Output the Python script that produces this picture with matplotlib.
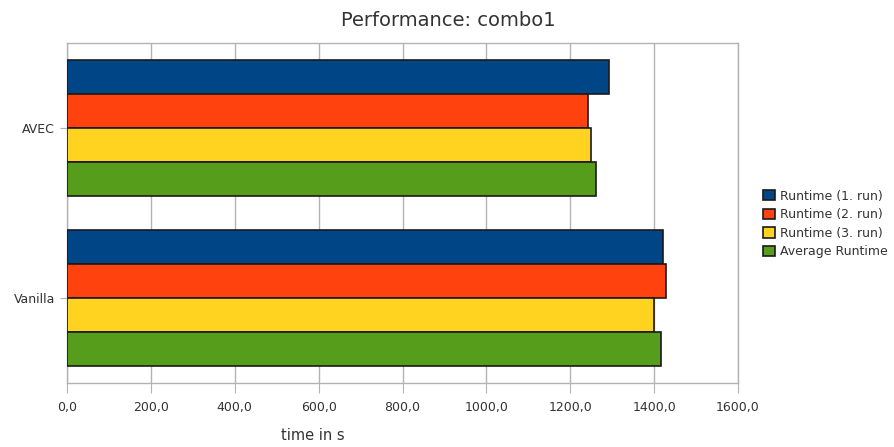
import numpy as np
import matplotlib
matplotlib.use("Agg")
import matplotlib.pyplot as plt

# data
categories = ["AVEC", "Vanilla"]
series_names = ["Runtime (1. run)", "Runtime (2. run)", "Runtime (3. run)", "Average Runtime"]
avec_times = [1293, 1243, 1250, 1262]
vanilla_times = [1421, 1429, 1400, 1417]
xticks = [0, 200, 400, 600, 800, 1000, 1200, 1400, 1600]
colors = ["#004586", "#ff420e", "#ffd320", "#579d1c"]

values = np.array([avec_times, vanilla_times])

fig = plt.figure(figsize=(8.94, 4.47), dpi=100)
ax = fig.add_axes([67 / 894, 1 - 383 / 447, (738 - 67) / 894, 340 / 447])

bar_h = 0.2
ypos = np.array([1, 0])  # AVEC on top
for i, name in enumerate(series_names):
    offs = (1.5 - i) * bar_h
    ax.barh(ypos + offs, values[:, i], height=bar_h, color=colors[i],
            edgecolor="#1a1a1a", linewidth=1.2, label=name, zorder=3)

ax.set_xlim(0, 1600)
ax.set_ylim(-0.5, 1.5)
ax.set_xticks(xticks)
ax.set_xticklabels([f"{t},0" for t in xticks], fontsize=9, color="#333333")
ax.set_yticks(ypos)
ax.set_yticklabels(categories, fontsize=9, color="#333333")
ax.tick_params(axis="x", length=7, color="#b3b3b3", pad=6)
ax.tick_params(axis="y", length=5, color="#b3b3b3")
ax.grid(axis="x", color="#b3b3b3", linewidth=1, zorder=0)
for s in ax.spines.values():
    s.set_color("#b3b3b3")
    s.set_linewidth(1)

# axis title sits left of centre in the original
fig.text(313 / 894, 1 - 435 / 447, "time in s", fontsize=10.5, color="#333333",
         ha="center", va="center")
fig.text(448 / 894, 1 - 20 / 447, "Performance: combo1", fontsize=14,
         color="#333333", ha="center", va="center")

fig.legend(loc="center left", bbox_to_anchor=(752 / 894, 1 - 224 / 447),
           frameon=False, fontsize=9, handlelength=0.9, handleheight=0.9,
           handletextpad=0.4, labelspacing=0.45, labelcolor="#333333")

fig.savefig("out.png", dpi=100)
